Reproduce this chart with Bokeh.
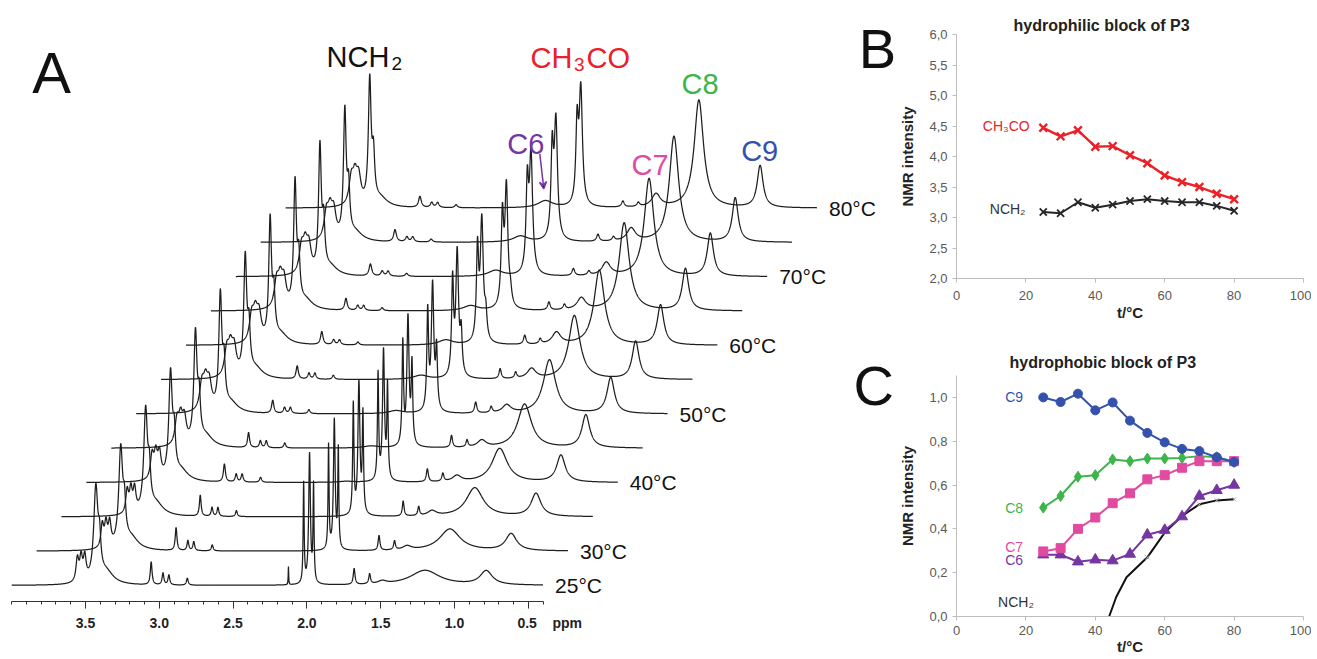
import numpy as np
from bokeh.plotting import figure
from bokeh.models import (Range1d, FixedTicker, Label, Arrow, VeeHead, Title,
                          CustomJSTickFormatter)
from bokeh.layouts import row, column
from bokeh.embed import file_html
from bokeh.resources import INLINE

FONT = "Liberation Sans"

# ---------------- Panel A : 1H NMR spectra vs temperature ----------------
temps = [25, 30, 35, 40, 45, 50, 55, 60, 65, 70, 75, 80]
labelled_temps = [25, 30, 40, 50, 60, 70, 80]
ppm_major = [3.5, 3.0, 2.5, 2.0, 1.5, 1.0, 0.5]
ppm_minor = [4.0, 3.9, 3.8, 3.7, 3.6, 3.4, 3.3, 3.2, 3.1, 2.9, 2.8, 2.7, 2.6,
             2.4, 2.3, 2.2, 2.1, 1.9, 1.8, 1.7, 1.6, 1.4, 1.3, 1.2, 1.1,
             0.9, 0.8, 0.7, 0.6, 0.4]

# peak centres (ppm)
nch2_pos = 3.43
nch2_shoulder_pos = 3.405
nch2_tail_pos = 3.36
nch2_multiplet_pos = [3.555, 3.53, 3.505]
small_pos = [3.055, 2.975, 2.935, 2.81, 1.68, 1.575]
sharp_pos = 2.125
c6_pos = 2.24
c7_pos = 1.49
c8_pos = 1.20
c9_pos = 0.785

# per-temperature peak heights (px above the trace baseline) and half widths (ppm)
nch2_h = [92, 97, 101, 104, 109, 113, 116, 119, 122, 124, 125, 122]
nch2_w = [0.017, 0.016, 0.015, 0.014, 0.013, 0.012, 0.012, 0.011, 0.011, 0.011, 0.011, 0.011]
nch2_shoulder_h = [30, 32, 34, 36, 38, 40, 41, 42, 43, 44, 45, 44]
nch2_tail_h = [12, 12, 12, 11, 11, 10, 10, 10, 10, 9, 9, 9]
multiplet_h = [23, 23, 23, 24, 24, 25, 25, 25, 25, 25, 25, 25]
multiplet_w = [0.011, 0.011, 0.011, 0.013, 0.016, 0.018, 0.018, 0.018, 0.018, 0.018, 0.018, 0.018]
p3055_h = [23, 23, 21, 18, 15, 13, 13, 13, 12, 12, 12, 11]
p2975_h = [12, 10, 9, 8, 7, 6, 6, 5, 5, 5, 5, 5]
p2935_h = [10, 9, 9, 8, 7, 6, 6, 5, 5, 5, 5, 5]
p281_h = [7, 6, 6, 5, 5, 4, 4, 3, 3, 3, 3, 3]
p168_h = [16, 15, 15, 13, 12, 11, 10, 9, 8, 7, 7, 6]
p1575_h = [10, 9, 9, 8, 7, 6, 6, 5, 5, 4, 4, 4]
small_w = [0.007, 0.007, 0.007, 0.008, 0.008, 0.009, 0.009, 0.010, 0.010, 0.011, 0.011, 0.011]
small_shift = [0.0, 0.0, 0.005, 0.01, 0.015, 0.02, 0.023, 0.025, 0.03, 0.033, 0.035, 0.035]
sharp_h = [18, 0, 0, 0, 0, 0, 0, 0, 0, 0, 0, 0]
co_main_pos = [1.982, 1.983, 1.985, 1.987, 1.99, 1.992, 1.994, 1.996, 1.998, 2.0, 2.0, 2.0]
co_main_h = [130, 130, 132, 130, 128, 126, 124, 121, 119, 117, 117, 115]
co_main_w = [0.007, 0.007, 0.008, 0.008, 0.009, 0.010, 0.011, 0.012, 0.012, 0.013, 0.013, 0.013]
co_left_pos = [2.022, 2.022, 2.023, 2.024, 2.025, 2.025, 2.025, 2.025, 2.025, 2.025, 2.025, 2.025]
co_left_h = [100, 104, 110, 106, 102, 98, 94, 90, 88, 86, 86, 78]
co_right_h = [96, 98, 98, 92, 78, 58, 40, 24, 12, 0, 0, 0]
co_side_w = [0.004, 0.004, 0.005, 0.005, 0.006, 0.007, 0.008, 0.009, 0.010, 0.010, 0.010, 0.010]
c6_h = [0, 0, 0, 1, 2, 3, 4, 5, 5, 6, 6, 7]
c7_h = [3, 4, 5, 6, 7, 8, 10, 12, 12, 13, 13, 13]
c8_h = [15, 22, 29, 34, 44, 54, 64, 75, 88, 98, 106, 108]
c8_w = [0.12, 0.085, 0.07, 0.062, 0.056, 0.05, 0.046, 0.043, 0.041, 0.039, 0.038, 0.038]
c9_h = [14, 17, 23, 27, 33, 36, 38, 40, 42, 43, 44, 42]
c9_w = [0.05, 0.045, 0.04, 0.035, 0.032, 0.03, 0.028, 0.027, 0.026, 0.025, 0.024, 0.024]

# ---------------- Panel B : hydrophilic block ----------------
t_b = [25, 30, 35, 40, 45, 50, 55, 60, 65, 70, 75, 80]
ch3co_b = [4.47, 4.33, 4.43, 4.16, 4.17, 4.02, 3.89, 3.69, 3.58, 3.50, 3.39, 3.30]
nch2_b = [3.09, 3.07, 3.25, 3.16, 3.21, 3.27, 3.30, 3.27, 3.25, 3.25, 3.19, 3.11]

# ---------------- Panel C : hydrophobic block ----------------
t_c = [25, 30, 35, 40, 45, 50, 55, 60, 65, 70, 75, 80]
c9_c = [1.00, 0.979, 1.017, 0.941, 0.977, 0.894, 0.838, 0.795, 0.765, 0.755, 0.727, 0.705]
c8_c = [0.497, 0.55, 0.638, 0.645, 0.717, 0.709, 0.721, 0.721, 0.724, 0.732, 0.727, 0.705]
c7_c = [0.297, 0.312, 0.40, 0.452, 0.517, 0.562, 0.626, 0.645, 0.679, 0.709, 0.709, 0.709]
c6_c = [0.282, 0.282, 0.25, 0.259, 0.255, 0.285, 0.373, 0.394, 0.456, 0.55, 0.576, 0.60]
t_nch2_c = [44, 46, 49, 55, 60, 65, 70, 75, 80]
nch2_c = [0.0, 0.088, 0.179, 0.27, 0.383, 0.459, 0.512, 0.53, 0.535]

# ---------------- styling constants ----------------
DX = 0.1687    # horizontal stagger between traces (ppm)
DY = 34.3      # vertical stagger between traces (px)
RED = "#ec2027"
BLUE = "#3451ad"
GREEN = "#3db54a"
PINK = "#e04b9f"
PURPLE = "#7636a2"
INK = "#1e1e1e"

grid = np.linspace(4.0, 0.4, 3601)


def lor(x0, h, w):
    return h / (1.0 + ((grid - x0) / w) ** 2)


xs, ys = [], []
for i, t in enumerate(temps):
    s = small_shift[i]
    y = np.zeros_like(grid)
    y += lor(nch2_pos, nch2_h[i], nch2_w[i])
    y += lor(nch2_shoulder_pos, nch2_shoulder_h[i], 0.010)
    y += lor(nch2_tail_pos, nch2_tail_h[i], 0.06)
    for m in nch2_multiplet_pos:
        y += lor(m, multiplet_h[i], multiplet_w[i])
    for pos, hs in zip(small_pos, [p3055_h, p2975_h, p2935_h, p281_h, p168_h, p1575_h]):
        y += lor(pos + s, hs[i], small_w[i])
    if sharp_h[i] > 0:
        y += lor(sharp_pos, sharp_h[i], 0.002)
    y += lor(co_main_pos[i], co_main_h[i], co_main_w[i])
    y += lor(co_left_pos[i], co_left_h[i], co_side_w[i])
    if co_right_h[i] > 0:
        y += lor(co_main_pos[i] - 0.027, co_right_h[i], co_side_w[i])
    if c6_h[i] > 0:
        y += lor(c6_pos, c6_h[i], 0.06)
    y += lor(c7_pos, c7_h[i], 0.035)
    y += lor(c8_pos, c8_h[i], c8_w[i])
    y += lor(c9_pos, c9_h[i], c9_w[i])
    xs.append((grid - i * DX).tolist())
    ys.append((y + i * DY).tolist())

A_W = 896
pA = figure(width=A_W, height=657, x_range=Range1d(4.0759, 3.5 - (A_W - 85) / 147.6),
            y_range=Range1d(-16, 585), output_backend="svg", toolbar_location=None,
            y_axis_location=None, title=None,
            min_border_left=0, min_border_right=0, min_border_top=0, min_border_bottom=56)
pA.outline_line_color = None
pA.grid.visible = False
pA.multi_line(xs=xs, ys=ys, line_color=INK, line_width=1.25)

ax = pA.xaxis[0]
ax.ticker = FixedTicker(ticks=ppm_major, minor_ticks=ppm_minor)
ax.formatter = CustomJSTickFormatter(code="""
if (Math.abs(tick - 0.5) < 1e-6) {
  return "\\u2007\\u2007\\u2007\\u2007\\u2007\\u00a00.5\\u2007\\u2007ppm";
}
return tick.toFixed(1);
""")
ax.bounds = (0.4, 4.0)
ax.axis_line_color = "#333333"
ax.major_tick_line_color = "#333333"
ax.minor_tick_line_color = "#333333"
ax.major_tick_out = 7
ax.major_tick_in = 0
ax.minor_tick_out = 3
ax.minor_tick_in = 0
ax.major_label_standoff = 6
ax.major_label_text_font = FONT
ax.major_label_text_font_style = "bold"
ax.major_label_text_font_size = "14px"
ax.major_label_text_color = "#222222"

for t in labelled_temps:
    i = temps.index(t)
    pA.add_layout(Label(x=0.4 - i * DX - 0.0813, y=i * DY, text=f"{t}°C",
                        text_font=FONT, text_font_size="21px", text_color="#111111",
                        text_align="left", text_baseline="middle"))

big = "29px"
sub = "19px"
pA.add_layout(Label(x=1.867, y=529, text="NCH", text_font=FONT, text_font_size=big,
                    text_color="#111111", text_align="left", text_baseline="alphabetic"))
pA.add_layout(Label(x=1.427, y=522, text="2", text_font=FONT, text_font_size=sub,
                    text_color="#111111", text_align="left", text_baseline="alphabetic"))
pA.add_layout(Label(x=0.485, y=527.7, text="CH", text_font=FONT, text_font_size=big,
                    text_color=RED, text_align="left", text_baseline="alphabetic"))
pA.add_layout(Label(x=0.19, y=521, text="3", text_font=FONT, text_font_size=sub,
                    text_color=RED, text_align="left", text_baseline="alphabetic"))
pA.add_layout(Label(x=0.105, y=527.7, text="CO", text_font=FONT, text_font_size=big,
                    text_color=RED, text_align="left", text_baseline="alphabetic"))
for txt, xx, yy, col in [("C8", -0.538, 501.7, GREEN), ("C6", 0.643, 441.7, PURPLE),
                         ("C7", -0.199, 421, PINK), ("C9", -0.942, 435, BLUE)]:
    pA.add_layout(Label(x=xx, y=yy, text=txt, text_font=FONT, text_font_size=big,
                        text_color=col, text_align="left", text_baseline="alphabetic"))
pA.add_layout(Arrow(x_start=0.422, y_start=431.7, x_end=0.395, y_end=396.7,
                    line_color=PURPLE, line_width=1.5,
                    end=VeeHead(size=7, line_color=PURPLE, line_width=1.5)))

# panel letters
pA.add_layout(Label(x=3.73, y=513, text="A", text_font=FONT, text_font_size="58px",
                    text_color="#111111", text_align="center", text_baseline="middle"))
pA.add_layout(Label(x=-1.866, y=537, text="B", text_font=FONT, text_font_size="56px",
                    text_color="#111111", text_align="center", text_baseline="middle"))
pA.add_layout(Label(x=-1.84, y=200, text="C", text_font=FONT, text_font_size="56px",
                    text_color="#111111", text_align="center", text_baseline="middle"))


def style_axes(p, ymajor, xstandoff, xlabel_standoff):
    for a in (p.xaxis[0], p.yaxis[0]):
        a.axis_line_color = "#bdbdbd"
        a.major_tick_line_color = "#bdbdbd"
        a.minor_tick_line_color = None
        a.major_tick_out = 4
        a.major_tick_in = 0
        a.major_label_text_font = FONT
        a.major_label_text_font_size = "13px"
        a.major_label_text_color = "#595959"
        a.axis_label_text_font = FONT
        a.axis_label_text_font_size = "15px"
        a.axis_label_text_font_style = "bold"
        a.axis_label_text_color = "#222222"
    p.xaxis[0].ticker = FixedTicker(ticks=[0, 20, 40, 60, 80, 100])
    p.xaxis[0].major_label_standoff = xstandoff
    p.xaxis[0].axis_label = "t/°C"
    p.xaxis[0].axis_label_standoff = xlabel_standoff
    p.yaxis[0].ticker = FixedTicker(ticks=ymajor)
    p.yaxis[0].formatter = CustomJSTickFormatter(code="return tick.toFixed(1).replace('.', ',');")
    p.yaxis[0].major_label_standoff = 5
    p.yaxis[0].axis_label = "NMR intensity"
    p.yaxis[0].axis_label_standoff = 10
    p.grid.visible = False
    p.outline_line_color = None


def text(p, x, y, s, size="14px", color="#222222", align="right"):
    p.add_layout(Label(x=x, y=y, text=s, text_font=FONT, text_font_size=size,
                       text_color=color, text_align=align, text_baseline="middle"))


def title(p, s, offset, standoff):
    p.add_layout(Title(text=s, align="left", offset=offset, standoff=standoff,
                       text_font=FONT, text_font_size="16px", text_font_style="bold",
                       text_color="#222222"), "above")


# ---------------- Panel B ----------------
pB = figure(width=415, height=333, x_range=Range1d(0, 100), y_range=Range1d(2, 6),
            output_backend="svg", toolbar_location=None, title=None,
            min_border_left=60, min_border_right=8, min_border_top=34, min_border_bottom=55)
style_axes(pB, [2.0, 2.5, 3.0, 3.5, 4.0, 4.5, 5.0, 5.5, 6.0], 8, 1)
title(pB, "hydrophilic block of P3", 57, 1)
pB.line(t_b, nch2_b, line_color="#262626", line_width=2)
pB.scatter(t_b, nch2_b, marker="x", size=10, line_color="#262626", line_width=1.8)
pB.line(t_b, ch3co_b, line_color=RED, line_width=2.4)
pB.scatter(t_b, ch3co_b, marker="x", size=11, line_color=RED, line_width=2.4)
text(pB, 21.1, 4.497, "CH₃CO", color=RED)
text(pB, 19.9, 3.136, "NCH₂", color="#333333")

# ---------------- Panel C ----------------
pC = figure(width=415, height=324, x_range=Range1d(0, 100), y_range=Range1d(0, 1.1),
            output_backend="svg", toolbar_location=None, title=None,
            min_border_left=60, min_border_right=8, min_border_top=42, min_border_bottom=41)
style_axes(pC, [0.0, 0.2, 0.4, 0.6, 0.8, 1.0], 5, 0)
title(pC, "hydrophobic block of P3", 53, 10)
pC.line(t_nch2_c, nch2_c, line_color="#111111", line_width=2)
pC.scatter(t_nch2_c[3:], nch2_c[3:], marker="x", size=6, line_color="#aaaaaa", line_width=1)
pC.line(t_c, c6_c, line_color=PURPLE, line_width=2)
pC.scatter(t_c, c6_c, marker="triangle", size=11, fill_color=PURPLE, line_color=PURPLE)
pC.line(t_c, c8_c, line_color=GREEN, line_width=2)
pC.scatter(t_c, c8_c, marker="diamond", size=11, fill_color=GREEN, line_color=GREEN)
pC.line(t_c, c7_c, line_color=PINK, line_width=2)
pC.scatter(t_c, c7_c, marker="square", size=9, fill_color=PINK, line_color=PINK)
pC.line(t_c, c9_c, line_color=BLUE, line_width=2)
pC.scatter(t_c, c9_c, marker="circle", size=9, fill_color=BLUE, line_color=BLUE)
text(pC, 19.2, 1.004, "C9", color=BLUE)
text(pC, 19.2, 0.493, "C8", color=GREEN)
text(pC, 19.2, 0.319, "C7", color=PINK)
text(pC, 19.2, 0.26, "C6", color=PURPLE)
text(pC, 22.3, 0.064, "NCH₂", color="#333333")

layout = row(pA, column(pB, pC))
open("out.html", "w").write(file_html(layout, INLINE))
